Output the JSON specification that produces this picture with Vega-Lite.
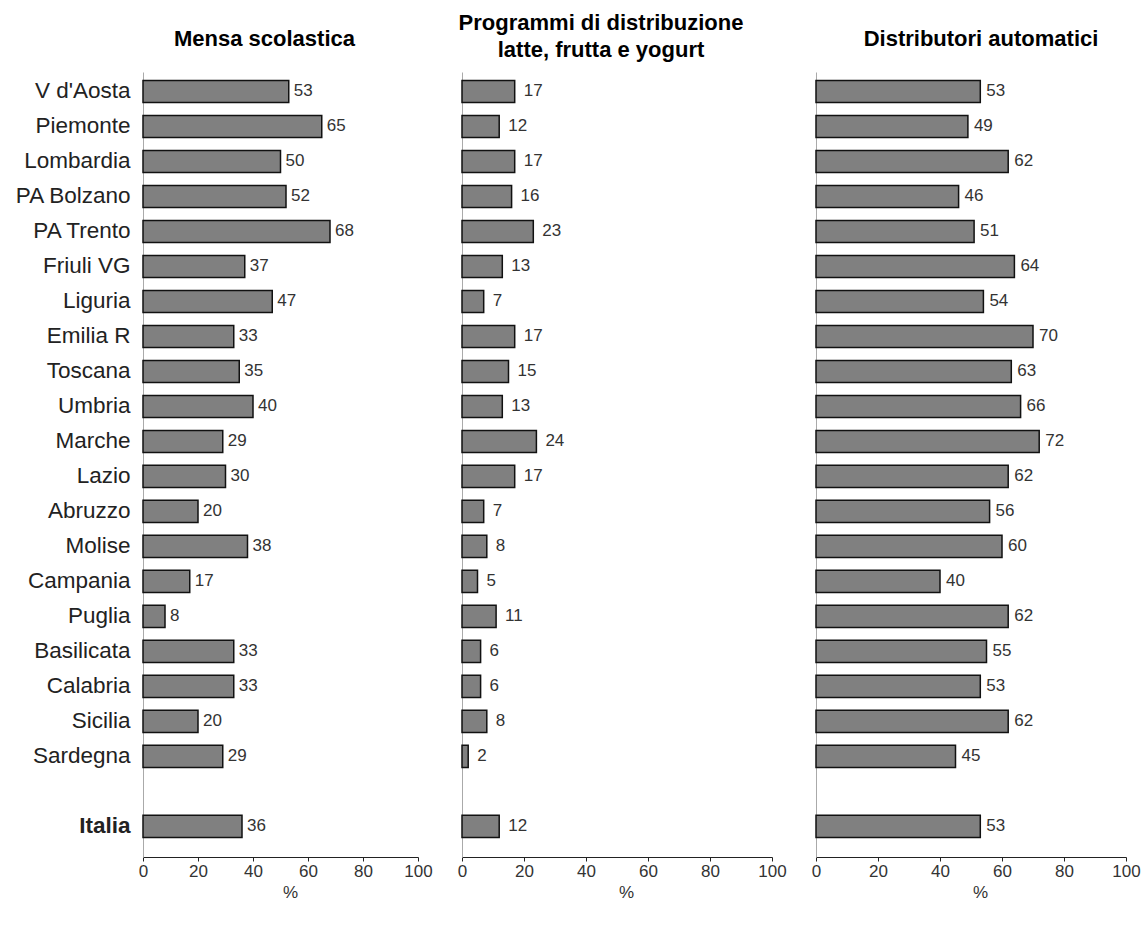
{
  "$schema": "https://vega.github.io/schema/vega-lite/v6.json",
  "background": "white",
  "padding": {"left": 4, "top": 12, "right": 0, "bottom": 5},
  "config": {
    "font": "Liberation Sans",
    "view": {"stroke": null}
  },
  "bounds": "flush",
  "spacing": 44,
  "datasets": {
    "d": [
      {"region": "V d'Aosta", "mensa": 53, "prog": 17, "distr": 53},
      {"region": "Piemonte", "mensa": 65, "prog": 12, "distr": 49},
      {"region": "Lombardia", "mensa": 50, "prog": 17, "distr": 62},
      {"region": "PA Bolzano", "mensa": 52, "prog": 16, "distr": 46},
      {"region": "PA Trento", "mensa": 68, "prog": 23, "distr": 51},
      {"region": "Friuli VG", "mensa": 37, "prog": 13, "distr": 64},
      {"region": "Liguria", "mensa": 47, "prog": 7, "distr": 54},
      {"region": "Emilia R", "mensa": 33, "prog": 17, "distr": 70},
      {"region": "Toscana", "mensa": 35, "prog": 15, "distr": 63},
      {"region": "Umbria", "mensa": 40, "prog": 13, "distr": 66},
      {"region": "Marche", "mensa": 29, "prog": 24, "distr": 72},
      {"region": "Lazio", "mensa": 30, "prog": 17, "distr": 62},
      {"region": "Abruzzo", "mensa": 20, "prog": 7, "distr": 56},
      {"region": "Molise", "mensa": 38, "prog": 8, "distr": 60},
      {"region": "Campania", "mensa": 17, "prog": 5, "distr": 40},
      {"region": "Puglia", "mensa": 8, "prog": 11, "distr": 62},
      {"region": "Basilicata", "mensa": 33, "prog": 6, "distr": 55},
      {"region": "Calabria", "mensa": 33, "prog": 6, "distr": 53},
      {"region": "Sicilia", "mensa": 20, "prog": 8, "distr": 62},
      {"region": "Sardegna", "mensa": 29, "prog": 2, "distr": 45},
      {"region": "Italia", "mensa": 36, "prog": 12, "distr": 53}
    ]
  },
  "hconcat": [
    {
      "width": 275,
      "height": 785,
      "data": {"name": "d"},
      "title": {"text": "Mensa scolastica", "fontSize": 22, "fontWeight": "bold", "color": "black", "dx": -16, "offset": 21},
      "encoding": {
        "y": {
          "field": "region", "type": "nominal",
          "scale": {"domain": ["V d'Aosta", "Piemonte", "Lombardia", "PA Bolzano", "PA Trento", "Friuli VG", "Liguria", "Emilia R", "Toscana", "Umbria", "Marche", "Lazio", "Abruzzo", "Molise", "Campania", "Puglia", "Basilicata", "Calabria", "Sicilia", "Sardegna", " ", "Italia"], "paddingInner": 0.37, "paddingOuter": 0.4, "align": 0.3},
          "axis": {"title": null, "ticks": false, "domainColor": "#aaaaaa", "labelFontSize": 22.5, "labelColor": "#222222", "labelPadding": 13,
            "labelFontWeight": {"condition": {"test": "datum.value == 'Italia'", "value": "bold"}, "value": "normal"},
            "minExtent": 139, "maxExtent": 139}
        },
        "x": {
          "field": "mensa", "type": "quantitative",
          "scale": {"domain": [0, 100]},
          "axis": {"title": "%", "titleX": 147, "values": [0, 20, 40, 60, 80, 100], "grid": false, "domainColor": "#222222", "tickColor": "#222222", "tickSize": 4, "labelFontSize": 17, "labelColor": "#333333", "labelFlush": false, "titleFontSize": 17, "titleFontWeight": "normal", "titleColor": "#333333", "titlePadding": 5}
        }
      },
      "layer": [
        {"mark": {"type": "bar", "fill": "#808080", "stroke": "#111111", "strokeWidth": 1.5}},
        {"mark": {"type": "text", "align": "left", "dx": 5, "fontSize": 17, "color": "#333333"}, "encoding": {"text": {"field": "mensa"}}}
      ]
    },
    {
      "width": 310,
      "height": 785,
      "data": {"name": "d"},
      "title": {"text": ["Programmi di distribuzione", "latte, frutta e yogurt"], "fontSize": 22, "lineHeight": 27, "fontWeight": "bold", "color": "black", "dx": -16, "offset": 10},
      "encoding": {
        "y": {
          "field": "region", "type": "nominal",
          "scale": {"domain": ["V d'Aosta", "Piemonte", "Lombardia", "PA Bolzano", "PA Trento", "Friuli VG", "Liguria", "Emilia R", "Toscana", "Umbria", "Marche", "Lazio", "Abruzzo", "Molise", "Campania", "Puglia", "Basilicata", "Calabria", "Sicilia", "Sardegna", " ", "Italia"], "paddingInner": 0.37, "paddingOuter": 0.4, "align": 0.3},
          "axis": {"title": null, "ticks": false, "labels": false, "domainColor": "#aaaaaa", "minExtent": 0, "maxExtent": 0}
        },
        "x": {
          "field": "prog", "type": "quantitative",
          "scale": {"domain": [0, 100]},
          "axis": {"title": "%", "titleX": 164, "values": [0, 20, 40, 60, 80, 100], "grid": false, "domainColor": "#222222", "tickColor": "#222222", "tickSize": 4, "labelFontSize": 17, "labelColor": "#333333", "labelFlush": false, "titleFontSize": 17, "titleFontWeight": "normal", "titleColor": "#333333", "titlePadding": 5}
        }
      },
      "layer": [
        {"mark": {"type": "bar", "fill": "#808080", "stroke": "#111111", "strokeWidth": 1.5}},
        {"mark": {"type": "text", "align": "left", "dx": 9, "fontSize": 17, "color": "#333333"}, "encoding": {"text": {"field": "prog"}}}
      ]
    },
    {
      "width": 310,
      "height": 785,
      "data": {"name": "d"},
      "title": {"text": "Distributori automatici", "fontSize": 22, "fontWeight": "bold", "color": "black", "dx": 10, "offset": 21},
      "encoding": {
        "y": {
          "field": "region", "type": "nominal",
          "scale": {"domain": ["V d'Aosta", "Piemonte", "Lombardia", "PA Bolzano", "PA Trento", "Friuli VG", "Liguria", "Emilia R", "Toscana", "Umbria", "Marche", "Lazio", "Abruzzo", "Molise", "Campania", "Puglia", "Basilicata", "Calabria", "Sicilia", "Sardegna", " ", "Italia"], "paddingInner": 0.37, "paddingOuter": 0.4, "align": 0.3},
          "axis": {"title": null, "ticks": false, "labels": false, "domainColor": "#aaaaaa", "minExtent": 0, "maxExtent": 0}
        },
        "x": {
          "field": "distr", "type": "quantitative",
          "scale": {"domain": [0, 100]},
          "axis": {"title": "%", "titleX": 164, "values": [0, 20, 40, 60, 80, 100], "grid": false, "domainColor": "#222222", "tickColor": "#222222", "tickSize": 4, "labelFontSize": 17, "labelColor": "#333333", "labelFlush": false, "titleFontSize": 17, "titleFontWeight": "normal", "titleColor": "#333333", "titlePadding": 5}
        }
      },
      "layer": [
        {"mark": {"type": "bar", "fill": "#808080", "stroke": "#111111", "strokeWidth": 1.5}},
        {"mark": {"type": "text", "align": "left", "dx": 6, "fontSize": 17, "color": "#333333"}, "encoding": {"text": {"field": "distr"}}}
      ]
    }
  ]
}
